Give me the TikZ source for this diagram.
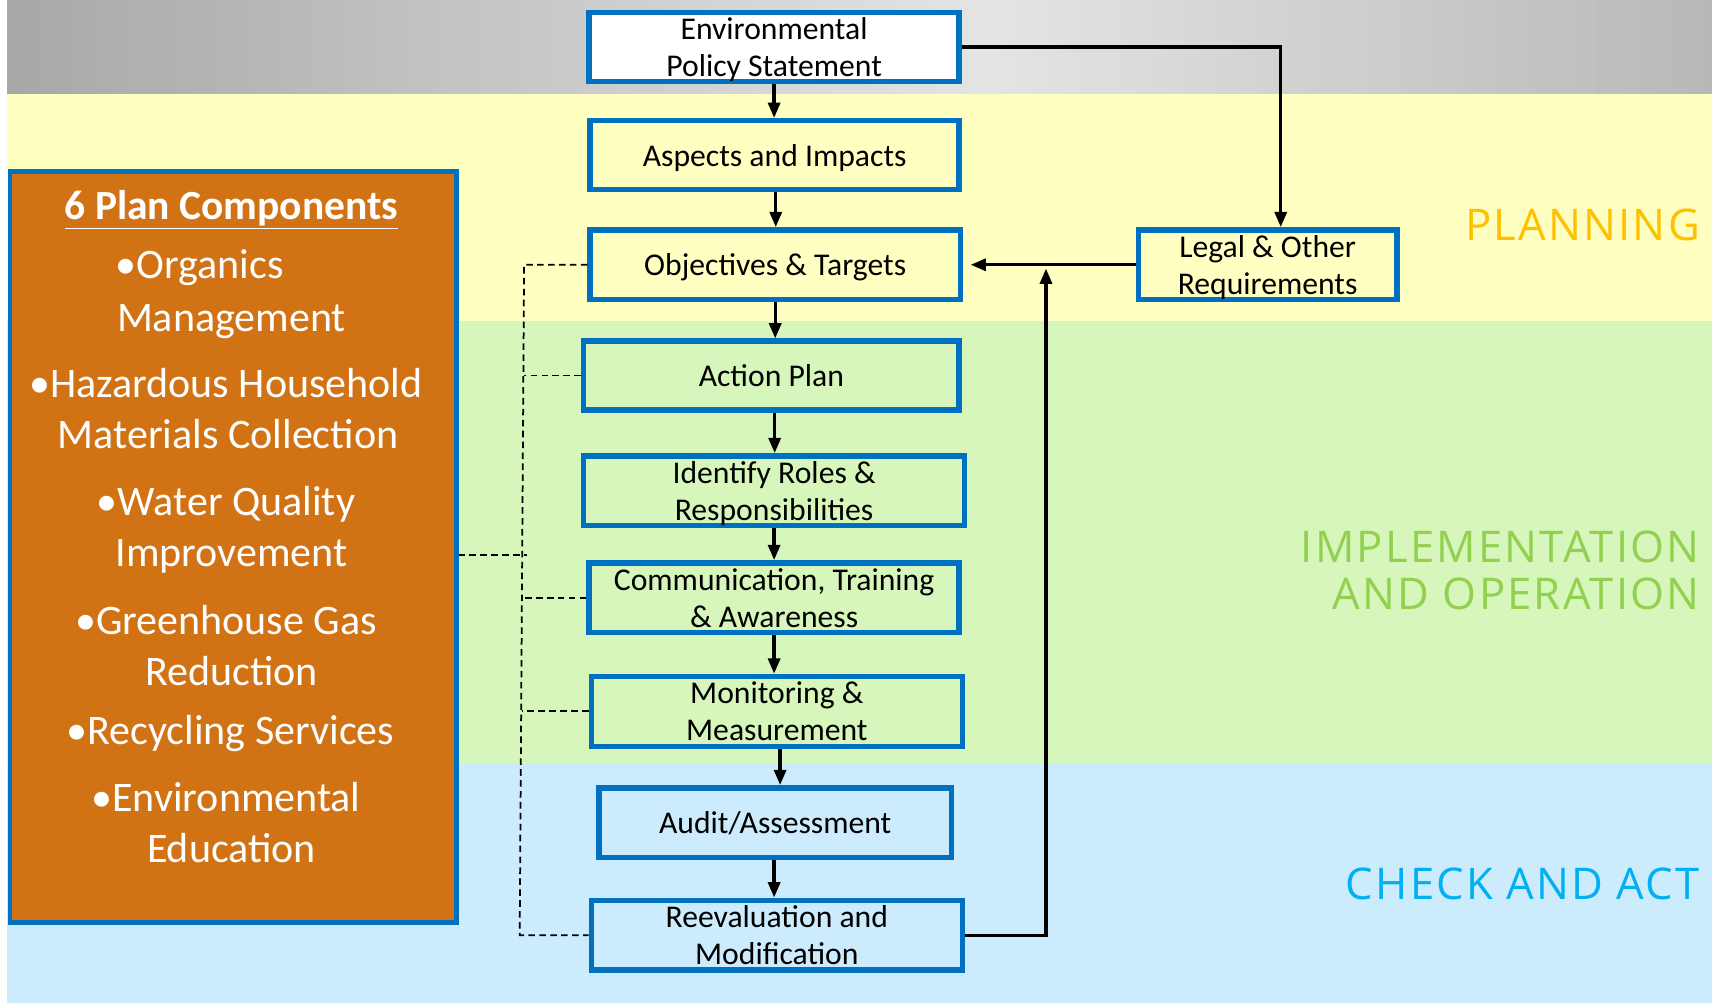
\documentclass[tikz,border=0pt]{standalone}
\usepackage{fontspec}
\setmainfont{Carlito}
\newfontfamily\bandfont[LetterSpace=5]{Open Sans}
\usetikzlibrary{arrows.meta}
\definecolor{grayA}{RGB}{168,168,168}
\definecolor{grayB}{RGB}{228,228,228}
\definecolor{grayC}{RGB}{184,184,184}
\definecolor{yband}{RGB}{255,255,193}
\definecolor{gband}{RGB}{214,246,187}
\definecolor{bband}{RGB}{204,236,254}
\definecolor{boxblue}{RGB}{0,112,192}
\definecolor{orng}{RGB}{209,115,21}
\definecolor{plangold}{RGB}{255,192,0}
\definecolor{implgreen}{RGB}{146,208,80}
\definecolor{checkblue}{RGB}{0,176,240}
\tikzset{
  stepbox/.style={draw=boxblue, line width=5pt, inner sep=2pt, align=center,
    font=\fontsize{29}{34}\selectfont, text=black, text depth=0pt},
  flow/.style={line width=3pt, -{Triangle[length=14pt,width=11pt]}},
  dashlink/.style={line width=1.6pt, dash pattern=on 6pt off 4pt},
  otext/.style={text=white, font=\fontsize{38.5}{44}\selectfont, inner sep=0pt,
    text height=0.64em, text depth=0pt},
  bandlabel/.style={font=\bandfont\fontsize{40}{48}\selectfont, inner sep=0pt,
    anchor=east, text height=0.72em, text depth=0pt}
}
\begin{document}
\begin{tikzpicture}[x=1pt,y=-1pt]
\useasboundingbox (0,0) rectangle (1568,919);
% bands
\fill[white] (0,0) rectangle (1568,919);
\foreach \i in {0,...,63} {
  \pgfmathsetmacro\xa{6+\i*14}
  \pgfmathsetmacro\pp{\i/63*100}
  \fill[grayB!\pp!grayA] (\xa,0) rectangle ({\xa+15},86);
}
\foreach \i in {0,...,47} {
  \pgfmathsetmacro\xa{902+\i*14}
  \pgfmathsetmacro\pp{\i/47*100}
  \fill[grayC!\pp!grayB] (\xa,0) rectangle ({min(\xa+15,1568)},86);
}
\fill[yband] (6,86) rectangle (1568,294);
\fill[gband] (6,294) rectangle (1568,699);
\fill[bband] (6,699) rectangle (1568,919);

% band labels
\node[bandlabel, text=plangold] (lplan) at (1557,217) {PLANNING};
\node[bandlabel, text=implgreen] (limp1) at (1557,512) {IMPLEMENTATION};
\node[bandlabel, text=implgreen] (limp2) at (1557,555) {AND OPERATION};
\node[bandlabel, text=checkblue] (lchk) at (1557,820) {CHECK AND ACT};

% step boxes
\node[stepbox, fill=white, minimum width=339pt, minimum height=63pt] (env) at (709,43) {Environmental\\Policy Statement};
\node[stepbox, fill=yband, minimum width=338pt, minimum height=63pt] (asp) at (709.5,142) {Aspects and Impacts};
\node[stepbox, fill=yband, minimum width=339pt, minimum height=64pt] (obj) at (710,242.5) {Objectives \& Targets};
\node[stepbox, fill=gband, minimum width=344pt, minimum height=63pt] (act) at (706.5,344) {Action Plan};
\node[stepbox, fill=gband, minimum width=349pt, minimum height=64pt] (rol) at (709,449.5) {Identify Roles \&\\Responsibilities};
\node[stepbox, fill=gband, minimum width=339pt, minimum height=64pt] (com) at (709,547.5) {Communication, Training\\\& Awareness};
\node[stepbox, fill=gband, minimum width=340pt, minimum height=64pt] (mon) at (711.5,651.5) {Monitoring \&\\Measurement};
\node[stepbox, fill=bband, minimum width=323pt, minimum height=64pt] (aud) at (710,753.5) {Audit/Assessment};
\node[stepbox, fill=bband, minimum width=340pt, minimum height=64pt] (ree) at (711.5,856.5) {Reevaluation and\\Modification};
\node[stepbox, fill=yband, minimum width=237pt, minimum height=64pt] (leg) at (1161,242.5) {Legal \& Other\\Requirements};

% vertical flow arrows
\draw[flow] (env.south) -- (env.south |- asp.north);
\draw[flow] ([xshift=1pt]asp.south) -- ([xshift=1pt]asp.south |- obj.north);
\draw[flow] (obj.south) -- (obj.south |- act.north);
\draw[flow] ([xshift=3pt]act.south) -- ([xshift=3pt]act.south |- rol.north);
\draw[flow] (rol.south) -- (rol.south |- com.north);
\draw[flow] (com.south) -- (com.south |- mon.north);
\draw[flow] ([xshift=3pt]mon.south) -- ([xshift=3pt]mon.south |- aud.north);
\draw[flow] ([xshift=-1pt]aud.south) -- ([xshift=-1pt]aud.south |- ree.north);

% side connectors
\coordinate (legin) at ([xshift=12pt]leg.north);
\draw[flow] (env.east) -| (legin);
\draw[flow, shorten >=7pt] (leg.west) -- (obj.east);
\coordinate (join) at (958,244);
\draw[flow, shorten >=2pt] (ree.east) -| (join);

% orange panel
\node[draw=boxblue, line width=4pt, fill=orng, minimum width=409pt, minimum height=688pt, inner sep=0pt] (panel) at (213.5,501) {};
\node[otext, font=\bfseries\fontsize{38}{44}\selectfont] (ptitle) at (212,198) {\underline{6 Plan Components}};
\node[otext] (p1a) at (183,252) {•Organics};
\node[otext] (p1b) at (212,300) {Management};
\node[otext] (p2a) at (207,361) {•Hazardous Household};
\node[otext] (p2b) at (209,408) {Materials Collection};
\node[otext] (p3a) at (207,469) {•Water Quality};
\node[otext] (p3b) at (212,516) {Improvement};
\node[otext] (p4a) at (207,578) {•Greenhouse Gas};
\node[otext] (p4b) at (212,625) {Reduction};
\node[otext] (p5a) at (211,679) {•Recycling Services};
\node[otext] (p6a) at (207,740) {•Environmental};
\node[otext] (p6b) at (212,787) {Education};

% dashed links
\coordinate (dtop) at (480,243);
\coordinate (dbot) at (476,855);
\draw[dashlink] (obj.west) -- (obj.west -| dtop) -- (dbot) -- (ree.west -| dbot) -- (ree.west);
\draw[dashlink] (act.west) -- (act.west -| dtop);
\draw[dashlink] ([yshift=-7pt]panel.east) -- ++(63,0);
\draw[dashlink] (com.west) -- ++(-57,0);
\draw[dashlink] (mon.west) -- ++(-61,0);
\end{tikzpicture}
\end{document}
